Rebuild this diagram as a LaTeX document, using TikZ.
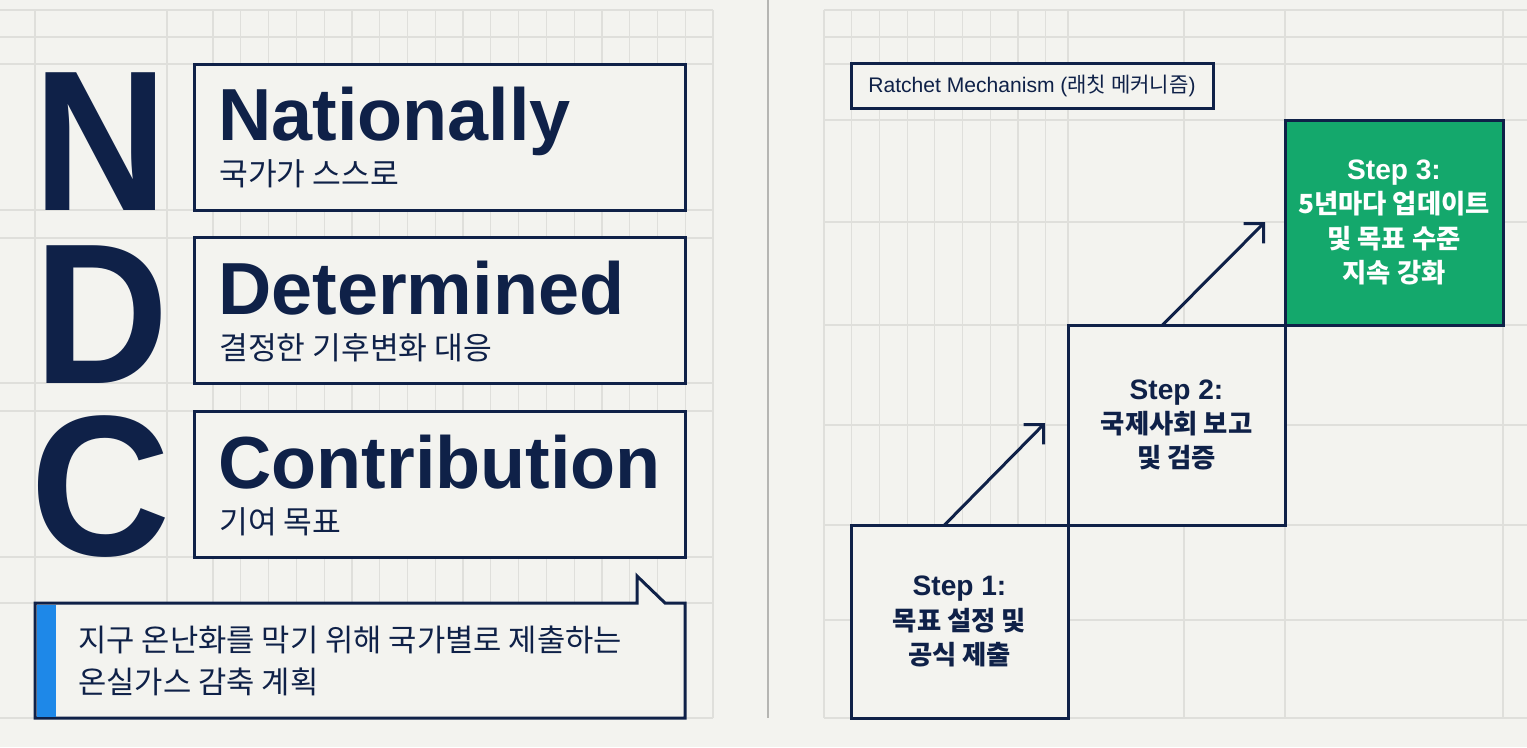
\documentclass[tikz,border=0pt]{standalone}
\usepackage{fontspec}
\setmainfont{Liberation Sans}
\newfontfamily\kr{Noto Sans CJK KR}
\usetikzlibrary{positioning,arrows.meta}

\newlength\upx
\setlength\upx{0.02cm}

\definecolor{navy}{HTML}{0F2148}
\definecolor{paper}{HTML}{F3F3EF}
\definecolor{gridgray}{HTML}{DFDFDB}
\definecolor{stepgreen}{HTML}{14A86C}
\definecolor{accentblue}{HTML}{1E88E8}
\definecolor{dividergray}{HTML}{B5B5B2}

\tikzset{
  faint/.style={gridgray, line width=1.2\upx},
  outline/.style={draw=navy, line width=3\upx, fill=paper, inner sep=0pt, outer sep=0pt},
  termbox/.style={outline, minimum width=491\upx, minimum height=146\upx},
  bigletter/.style={text=navy, inner sep=0pt, anchor=base, font=\fontsize{114}{114}\selectfont\bfseries},
  termword/.style={text=navy, inner sep=0pt, anchor=base west, font=\fontsize{42}{42}\selectfont\bfseries},
  termsub/.style={text=navy, inner sep=0pt, anchor=base west, font=\kr\fontsize{17.8}{20}\selectfont},
  stepbox/.style={outline, minimum width=217\upx, text=navy, align=center, font=\fontsize{16}{19.5}\selectfont\bfseries},
  ratchet/.style={navy, line width=3\upx, -{Straight Barb[length=0.28cm,width=0.56cm]}},
}

\begin{document}
\begin{tikzpicture}[x=1\upx, y=-1\upx]
  \fill[paper] (0,0) rectangle (1527,747);
  \useasboundingbox (0,0) rectangle (1527,747);

  % grid, left panel
  \foreach \gx in {35,167}
    \draw[faint] (\gx,10) -- (\gx,718);
  \foreach \i in {0,...,18}
    \draw[faint] ({213+27.78*\i},10) -- ({213+27.78*\i},718);
  \foreach \gy in {10,37,64,210,238,383,411,557,603,718}
    \draw[faint] (0,\gy) -- (713,\gy);
  % grid, right panel
  \foreach \i in {0,...,8}
    \draw[faint] ({824+27.7*\i},10) -- ({824+27.7*\i},718);
  \foreach \gx in {1068,1184,1285,1503}
    \draw[faint] (\gx,10) -- (\gx,718);
  \foreach \gy in {10,37,64,120,222,325,425,525,620,718}
    \draw[faint] (824,\gy) -- (1527,\gy);

  \draw[dividergray, line width=2.5\upx] (768,0) -- (768,718);

  % N D C
  \node[bigletter] (bigN) at (100.5,210) {\scalebox{0.93}[1]{N}};
  \node[bigletter] (bigD) at (101.5,383) {\scalebox{0.93}[1]{D}};
  \node[bigletter] (bigC) at (101,555) {\scalebox{0.97}[1]{C}};

  \node[termbox] (nat) at (439.5,137) {};
  \node[termword] (natEn) at (218,140) {Nationally};
  \node[termsub] (natKo) at (219,185) {국가가 스스로};

  \node[termbox] (det) at (439.5,310.5) {};
  \node[termword] (detEn) at (218,314) {Determined};
  \node[termsub] (detKo) at (219,359) {결정한 기후변화 대응};

  \node[termbox] (con) at (439.5,484) {};
  \node[termword] (conEn) at (218,488) {Contribution};
  \node[termsub] (conKo) at (219,533) {기여 목표};

  % callout
  \node[inner sep=0pt, outer sep=0pt, minimum width=650\upx, minimum height=115\upx] (note) at (360,660.5) {};
  \draw[navy, line width=3\upx, fill=paper] (note.north west) -- ([xshift=-48\upx]note.north east) -- ++(0,-27)
    -- ([xshift=-20\upx]note.north east) -- (note.north east) -- (note.south east) -- (note.south west) -- cycle;
  \fill[accentblue] ([shift={(1.5\upx,-1.5\upx)}]note.north west) rectangle ([shift={(21\upx,1.5\upx)}]note.south west);
  \node[text=navy, anchor=west, align=left, inner sep=0pt, font=\kr\fontsize{17.5}{23.5}\selectfont] (noteText) at (78,661)
    {지구 온난화를 막기 위해 국가별로 제출하는\\온실가스 감축 계획};

  % ratchet steps
  \node[outline, minimum width=362\upx, minimum height=45\upx, text=navy, font=\fontsize{12}{14}\selectfont] (mech) at (1032,86)
    {Ratchet Mechanism ({\kr 래칫 메커니즘})};

  \node[stepbox, minimum height=193\upx] (s1) at (959.5,621.5)
    {Step 1:\\{\kr\fontsize{15}{19.5}\selectfont 목표 설정 및}\\{\kr\fontsize{15}{19.5}\selectfont 공식 제출}};
  \node[stepbox, minimum height=200\upx, above right=0pt and 0pt of s1] (s2)
    {Step 2:\\{\kr\fontsize{15}{19.5}\selectfont 국제사회 보고}\\{\kr\fontsize{15}{19.5}\selectfont 및 검증}};
  \node[stepbox, minimum width=218\upx, minimum height=205\upx, fill=stepgreen, text=white, above right=0pt and 0pt of s2] (s3)
    {Step 3:\\{\kr\fontsize{15}{19.5}\selectfont 5년마다 업데이트}\\{\kr\fontsize{15}{19.5}\selectfont 및 목표 수준}\\{\kr\fontsize{15}{19.5}\selectfont 지속 강화}};

  \draw[ratchet] ([xshift=-15\upx]s1.north) -- ([xshift=-23\upx,yshift=102\upx]s2.south west);
  \draw[ratchet] ([xshift=-14\upx]s2.north) -- ([xshift=-20\upx,yshift=103\upx]s3.south west);
\end{tikzpicture}
\end{document}
